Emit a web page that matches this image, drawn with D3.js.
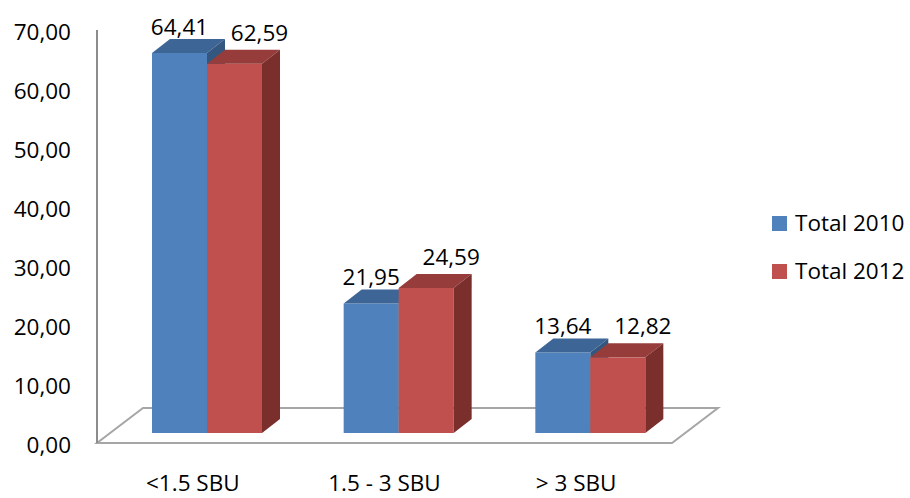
<!DOCTYPE html>
<html lang="en">
<head>
<meta charset="utf-8">
<title>SBU 2010 vs 2012</title>
<script src="https://cdn.jsdelivr.net/npm/d3@7"></script>
<style>
  body{ margin:0; background:#fff; }
  svg{ display:block; font-family:"Open Sans", sans-serif; }
  text{ fill:#000; }
</style>
</head>
<body>
<div id="chart"></div>
<script>
var categories = ["<1.5 SBU", "1.5 - 3 SBU", "> 3 SBU"]
var seriesNames = ["Total 2010", "Total 2012"]
var values2010 = [64.41, 21.95, 13.64]
var values2012 = [62.59, 24.59, 12.82]
var yTicks = [0, 10, 20, 30, 40, 50, 60, 70]

var colors = {
  "Total 2010": {front:"#4F81BD", top:"#3D6696", side:"#34577F"},
  "Total 2012": {front:"#C0504D", top:"#963D3B", side:"#7A2F2D"}
}

var width = 910, height = 498
var svg = d3.select("#chart").append("svg").attr("width", width).attr("height", height)

// front edge of the floor and the value axis
var x0 = d3.scaleBand().domain(categories).range([97, 672])
var xs = d3.scaleBand().domain(seriesNames).range([0, 110])
var y = d3.scaleLinear().domain([0, 70]).range([443, 30])

var floorDx = 46, floorDy = 35   // floor depth
var barDx = 18, barDy = 14       // bar depth
var barLift = 10                 // bars sit a bit back on the floor

function fmt(v){ return v.toFixed(2).replace(".", ",") }

// floor
svg.append("path")
  .attr("d", "M" + x0.range()[0] + "," + y(0) +
             "L" + x0.range()[1] + "," + y(0) +
             "L" + (x0.range()[1] + floorDx) + "," + (y(0) - floorDy) +
             "L" + (x0.range()[0] + floorDx) + "," + (y(0) - floorDy) + "Z")
  .attr("fill", "#fff").attr("stroke", "#A6A6A6").attr("stroke-width", 2)

// value axis line
svg.append("line")
  .attr("x1", 97).attr("x2", 97).attr("y1", y(70)).attr("y2", y(0))
  .attr("stroke", "#8C8C8C").attr("stroke-width", 2)

// y labels
svg.selectAll(".ylab").data(yTicks).enter().append("text")
  .attr("class", "ylab")
  .attr("x", 71).attr("y", function(d){ return y(d) + 2 })
  .attr("dy", "0.35em").attr("text-anchor", "end")
  .style("font-size", "22.5px")
  .text(fmt)

// bars
var rows = []
categories.forEach(function(c, i){
  rows.push({cat:c, s:"Total 2010", v:values2010[i]})
  rows.push({cat:c, s:"Total 2012", v:values2012[i]})
})

var g = svg.append("g")
rows.forEach(function(d){
  var xl = x0(d.cat) + 55 + xs(d.s)
  var w = xs.bandwidth()
  var yb = y(0) - barLift
  var yt = y(d.v) - barLift
  var col = colors[d.s]
  g.append("rect").attr("x", xl).attr("y", yt).attr("width", w).attr("height", yb - yt)
    .attr("fill", col.front)
  g.append("path")
    .attr("d", "M" + xl + "," + yt + "L" + (xl + w) + "," + yt +
               "L" + (xl + w + barDx) + "," + (yt - barDy) +
               "L" + (xl + barDx) + "," + (yt - barDy) + "Z")
    .attr("fill", col.top)
  g.append("path")
    .attr("d", "M" + (xl + w) + "," + yt + "L" + (xl + w) + "," + yb +
               "L" + (xl + w + barDx) + "," + (yb - barDy) +
               "L" + (xl + w + barDx) + "," + (yt - barDy) + "Z")
    .attr("fill", col.side)
})

// data labels
svg.selectAll(".dlab").data(rows).enter().append("text")
  .attr("class", "dlab")
  .attr("x", function(d){
    var xl = x0(d.cat) + 55 + xs(d.s) + xs.bandwidth() / 2
    return d.s == "Total 2010" ? xl : xl + 25
  })
  .attr("y", function(d){
    return y(d.v) - barLift - (d.s == "Total 2010" ? 26 : 31)
  })
  .attr("dy", "0.35em").attr("text-anchor", "middle")
  .style("font-size", "22.5px")
  .text(function(d){ return fmt(d.v) })

// category labels
svg.selectAll(".xlab").data(categories).enter().append("text")
  .attr("class", "xlab")
  .attr("x", function(d){ return x0(d) + x0.bandwidth() / 2 })
  .attr("y", 491)
  .attr("text-anchor", "middle")
  .style("font-size", "22.5px")
  .text(function(d){ return d })

// legend
var leg = svg.selectAll(".leg").data(seriesNames).enter().append("g")
  .attr("class", "leg")
  .attr("transform", function(d, i){ return "translate(772," + (216 + i * 48) + ")" })
leg.append("rect").attr("width", 15).attr("height", 15)
  .attr("fill", function(d){ return colors[d].front })
leg.append("text").attr("x", 23).attr("y", 7.5).attr("dy", "0.35em")
  .style("font-size", "22.5px")
  .text(function(d){ return d })
</script>
</body>
</html>
